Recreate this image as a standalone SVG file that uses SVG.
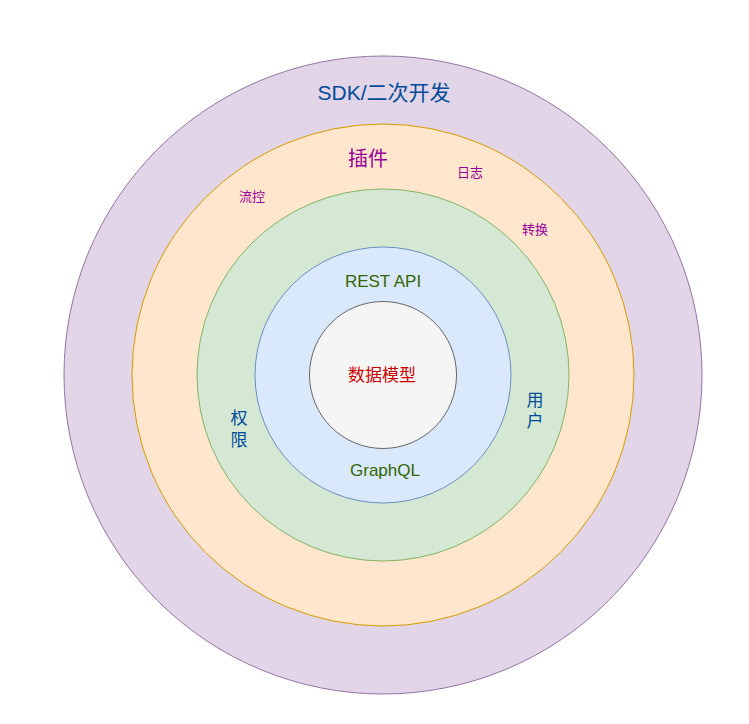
<svg xmlns="http://www.w3.org/2000/svg" width="749" height="724" viewBox="0 0 749 724">
<style>
text{font-family:"Liberation Sans","Noto Sans CJK SC",sans-serif;text-anchor:middle;dominant-baseline:central}
.sdk{fill:#004C99;font-size:21px}
.plug{fill:#990099;font-size:20px}
.small{fill:#990099;font-size:13px}
.api{fill:#336600;font-size:17px}
.core{fill:#CC0000;font-size:17px}
.side{fill:#004C99;font-size:17px}
</style>
<rect width="749" height="724" fill="#ffffff"/>
<g id="sdk">
<circle cx="383" cy="375" r="319" fill="#e1d5e7" stroke="#9673a6"/>
<text class="sdk" x="384" y="92">SDK/二次开发</text>
</g>
<g id="plugin">
<circle cx="383" cy="375" r="251" fill="#ffe6cc" stroke="#d79b00"/>
<text class="plug" x="368" y="159">插件</text>
<text class="small" x="470" y="172">日志</text>
<text class="small" x="252" y="196">流控</text>
<text class="small" x="535" y="229">转换</text>
</g>
<g id="auth">
<circle cx="383" cy="375" r="186" fill="#d5e8d4" stroke="#82b366"/>
<text class="side" x="239" y="418">权</text>
<text class="side" x="239" y="440">限</text>
<text class="side" x="535" y="400">用</text>
<text class="side" x="535" y="421">户</text>
</g>
<g id="api">
<circle cx="383" cy="375" r="128" fill="#dae8fc" stroke="#6c8ebf"/>
<text class="api" x="383" y="281">REST API</text>
<text class="api" x="385" y="470">GraphQL</text>
</g>
<g id="model">
<circle cx="383" cy="375" r="73.5" fill="#f5f5f5" stroke="#666666"/>
<text class="core" x="382" y="375">数据模型</text>
</g>
<g id="connectors"/>
</svg>
